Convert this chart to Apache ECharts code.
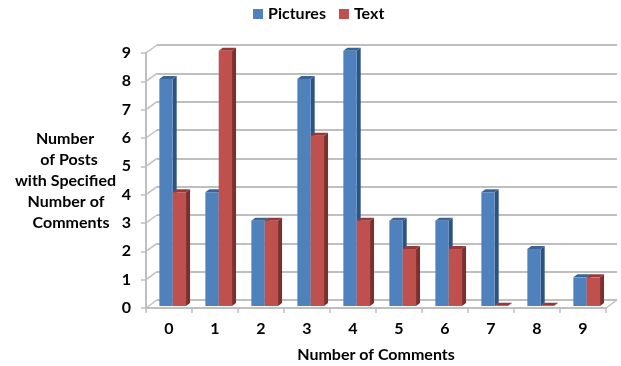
<!DOCTYPE html>
<html>
<head>
<meta charset="utf-8">
<style>html,body{margin:0;padding:0;background:#fff}#chart{width:621px;height:366px}</style>
<script src="https://cdn.jsdelivr.net/npm/echarts@6/dist/echarts.min.js"></script>
</head>
<body>
<div id="chart"></div>
<script>
// Posts by number of comments
const categories = ['0', '1', '2', '3', '4', '5', '6', '7', '8', '9'];
const pictures = [8, 4, 3, 8, 9, 3, 3, 4, 2, 1];
const text = [4, 9, 3, 6, 3, 2, 2, 0, 0, 1];
const yTicks = [0, 1, 2, 3, 4, 5, 6, 7, 8, 9];
const yTitleLines = ['Number', 'of Posts', 'with Specified', 'Number of', 'Comments'];
const xTitle = 'Number of Comments';

const FONT = 'Lato';
const FONT_SIZE = 16;
const GRID_COLOR = '#bfbfbf';
const GRID_WIDTH = 2;
const INK = '#000';
// Extrusion of the floor and wall, and of each column
const WALL_DX = 11, WALL_DY = -8;
const BAR_DX = 4, BAR_DY = -3;

// Draws an extruded column: front face, side face and top cap
function columnRenderer(slot, colors) {
  return function (params, api) {
    const idx = api.value(0), val = api.value(1);
    const top = api.coord([idx, val]);
    const base = api.coord([idx, 0]);
    const band = api.size([1, 0])[0];
    const w = band * 0.29;
    const l = top[0] + 3.7 + slot * w;
    const r = l + w;
    const yT = top[1] - 2.3, yB = base[1] - 2;
    const poly = (pts, fill) => ({
      type: 'polygon', shape: { points: pts }, style: { fill: fill }
    });
    return {
      type: 'group',
      children: [
        poly([[r, yT], [r + BAR_DX, yT + BAR_DY], [r + BAR_DX, yB + BAR_DY], [r, yB]], colors.side),
        poly([[l, yT], [l + BAR_DX, yT + BAR_DY], [r + BAR_DX, yT + BAR_DY], [r, yT]], colors.cap),
        {
          type: 'rect',
          shape: { x: l, y: yT, width: w, height: yB - yT },
          style: { fill: colors.front }
        }
      ]
    };
  };
}

// Diagonal wall ticks joining the front axis to the back wall
function wallRenderer(params, api) {
  const p = api.coord([0, api.value(0)]);
  const x = p[0] - api.size([1, 0])[0] / 2;
  return {
    type: 'line',
    shape: { x1: x, y1: p[1], x2: x + WALL_DX, y2: p[1] + WALL_DY },
    style: { stroke: GRID_COLOR, lineWidth: 1.5 }
  };
}

// Closing diagonal on the far right of the floor
function floorEndRenderer(params, api) {
  const p = api.coord([categories.length - 1, 0]);
  const x = p[0] + api.size([1, 0])[0] / 2;
  return {
    type: 'line',
    shape: { x1: x, y1: p[1], x2: x + WALL_DX, y2: p[1] + WALL_DY },
    style: { stroke: GRID_COLOR, lineWidth: 1.5 }
  };
}

const chart = echarts.init(document.getElementById('chart'), null, { renderer: 'canvas' });

const yTitleX = [65, 69, 65.5, 66, 71];
const yTitleY = [139, 160, 181, 202, 223];

chart.setOption({
  animation: false,
  backgroundColor: '#fff',
  textStyle: { fontFamily: FONT },
  legend: {
    top: 6,
    left: 253,
    padding: 0,
    itemWidth: 10,
    itemHeight: 10,
    itemGap: 13,
    icon: 'rect',
    textStyle: { fontFamily: FONT, fontWeight: 'bold', fontSize: FONT_SIZE, color: INK, padding: [0, 0, 0, 0] },
    data: ['Pictures', 'Text']
  },
  grid: [
    { left: 146, right: 15, top: 53, bottom: 58, outerBoundsMode: 'none' },
    { left: 157, right: 4, top: 45, bottom: 66, outerBoundsMode: 'none' }
  ],
  xAxis: [
    {
      type: 'category', gridIndex: 0, data: categories,
      axisLine: { lineStyle: { color: GRID_COLOR, width: GRID_WIDTH } },
      axisTick: { show: true, length: 5, lineStyle: { color: GRID_COLOR, width: 1.5 } },
      axisLabel: { fontFamily: FONT, fontWeight: 'bold', fontSize: FONT_SIZE, color: INK, margin: 13 },
      name: xTitle, nameLocation: 'middle', nameGap: 39,
      nameTextStyle: { fontFamily: FONT, fontWeight: 'bold', fontSize: FONT_SIZE, color: INK }
    },
    {
      type: 'category', gridIndex: 1, data: categories,
      axisLine: { show: false }, axisTick: { show: false }, axisLabel: { show: false }
    }
  ],
  yAxis: [
    {
      type: 'value', gridIndex: 0, min: 0, max: 9, interval: 1,
      splitLine: { show: false },
      axisLine: { show: true, lineStyle: { color: GRID_COLOR, width: GRID_WIDTH } },
      axisTick: { show: true, length: 5, lineStyle: { color: GRID_COLOR, width: 1.5 } },
      axisLabel: {
        fontFamily: FONT, fontWeight: 'bold', fontSize: FONT_SIZE, color: INK, margin: 15,
        formatter: v => String(yTicks[v])
      }
    },
    {
      type: 'value', gridIndex: 1, min: 0, max: 9, interval: 1,
      axisLine: { show: false }, axisTick: { show: false }, axisLabel: { show: false },
      splitLine: { show: true, lineStyle: { color: GRID_COLOR, width: GRID_WIDTH } }
    }
  ],
  series: [
    {
      type: 'custom', name: 'wall', xAxisIndex: 0, yAxisIndex: 0, silent: true, z: 1,
      data: yTicks.map(v => [v]), encode: { y: 0 }, renderItem: wallRenderer
    },
    {
      type: 'custom', name: 'floorEnd', xAxisIndex: 0, yAxisIndex: 0, silent: true, z: 1,
      data: [[0]], encode: { y: 0 }, renderItem: floorEndRenderer
    },
    {
      type: 'custom', name: 'Pictures', xAxisIndex: 0, yAxisIndex: 0, z: 3,
      itemStyle: { color: '#4F81BD' },
      data: pictures.map((v, i) => [i, v]), encode: { x: 0, y: 1 },
      renderItem: columnRenderer(-1, { front: '#4F81BD', side: '#2F5381', cap: '#3A6496' })
    },
    {
      type: 'custom', name: 'Text', xAxisIndex: 0, yAxisIndex: 0, z: 4,
      itemStyle: { color: '#C0504D' },
      data: text.map((v, i) => [i, v]), encode: { x: 0, y: 1 },
      renderItem: columnRenderer(0, { front: '#C0504D', side: '#7D2F2D', cap: '#953A38' })
    }
  ],
  graphic: yTitleLines.map((line, i) => ({
    type: 'text',
    x: yTitleX[i], y: yTitleY[i],
    style: {
      text: line, align: 'center', verticalAlign: 'middle',
      fontFamily: FONT, fontWeight: 'bold', fontSize: FONT_SIZE, fill: INK
    }
  }))
});
</script>
</body>
</html>
